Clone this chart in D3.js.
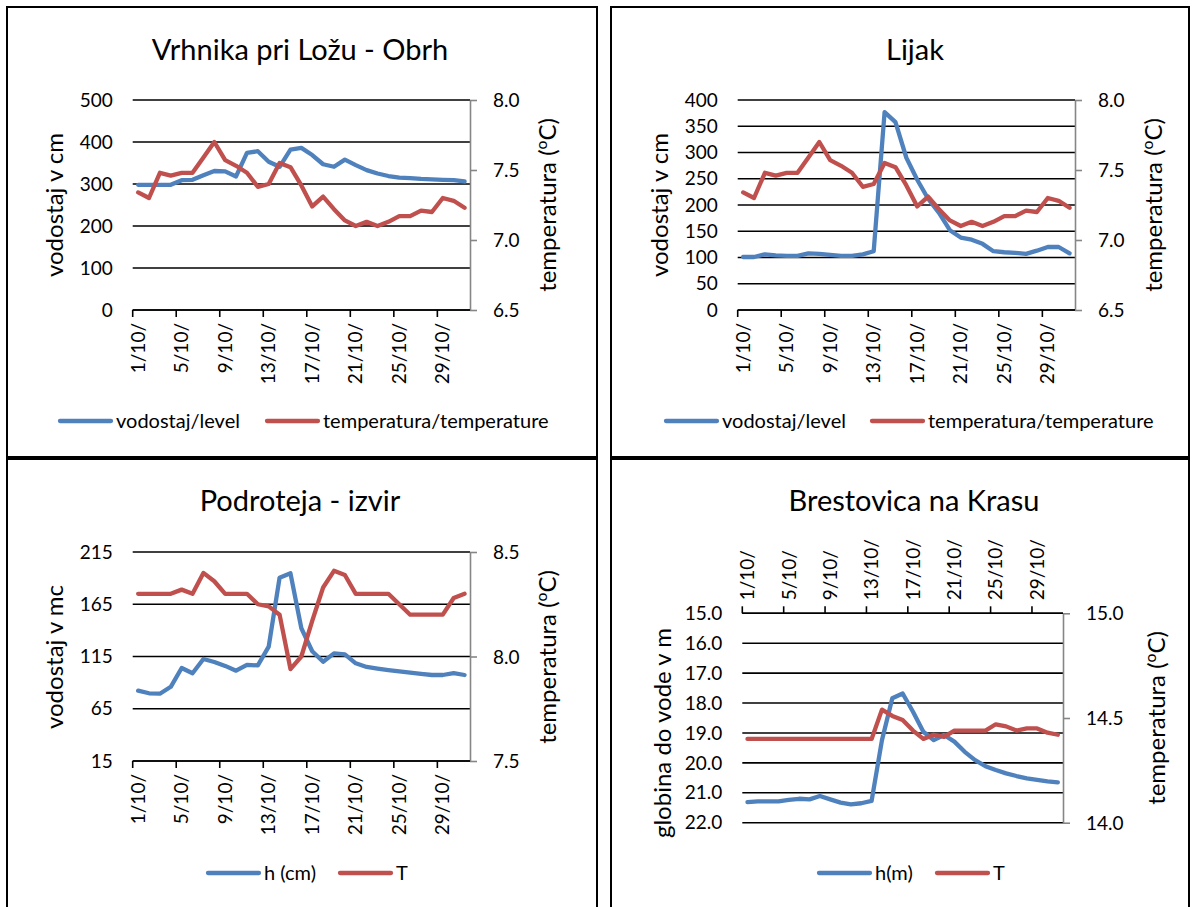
<!DOCTYPE html>
<html><head><meta charset="utf-8">
<script src="https://cdn.jsdelivr.net/npm/d3@7"></script>
<style>
body{margin:0;background:#fff}
svg{display:block}
text{font-family:Lato,"Open Sans",sans-serif;fill:#000}
</style>
</head><body>
<svg id="c" width="1196" height="907"></svg>
<script>
// ---------- data ----------
const days = d3.range(1, 32);
const labelDays = [1, 5, 9, 13, 17, 21, 25, 29];
const dayLabels = ["1/10/", "5/10/", "9/10/", "13/10/", "17/10/", "21/10/", "25/10/", "29/10/"];

const obrhLevel = [298,298,298,298,309,310,321,331,330,318,374,378,353,341,382,386,369,347,341,358,345,333,325,319,315,314,312,311,310,309,306];
const obrhTemp  = [7.34,7.30,7.48,7.46,7.48,7.48,7.59,7.70,7.57,7.53,7.48,7.38,7.40,7.55,7.52,7.39,7.24,7.31,7.22,7.14,7.10,7.13,7.10,7.13,7.17,7.17,7.21,7.20,7.30,7.28,7.23];

const lijakLevel = [101,101,106,104,103,103,108,107,105,103,103,106,112,377,358,290,248,212,185,152,138,134,126,112,110,109,107,113,120,120,108];
const lijakTemp  = [7.34,7.30,7.48,7.46,7.48,7.48,7.59,7.70,7.57,7.53,7.48,7.38,7.40,7.55,7.52,7.39,7.24,7.31,7.22,7.14,7.10,7.13,7.10,7.13,7.17,7.17,7.21,7.20,7.30,7.28,7.23];

const podrotejaH = [82.3,79.8,79.4,86,104,99,112.6,109.7,106,101.4,107,106.5,124.4,190.4,194.6,142,120,110,118,117,108.5,105,103.4,102,100.8,99.5,98.3,97.3,97.3,99,97.3];
const podrotejaT = [8.30,8.30,8.30,8.30,8.32,8.30,8.40,8.36,8.30,8.30,8.30,8.25,8.24,8.20,7.94,8.00,8.17,8.33,8.41,8.39,8.30,8.30,8.30,8.30,8.25,8.20,8.20,8.20,8.20,8.28,8.30];

const brestovicaH = [21.31,21.29,21.29,21.29,21.24,21.20,21.22,21.11,21.22,21.33,21.39,21.35,21.27,19.24,17.84,17.68,18.29,18.96,19.24,19.07,19.29,19.63,19.91,20.11,20.24,20.35,20.44,20.52,20.57,20.62,20.65];
const brestovicaT = [14.40,14.40,14.40,14.40,14.40,14.40,14.40,14.40,14.40,14.40,14.40,14.40,14.40,14.54,14.51,14.49,14.44,14.40,14.42,14.41,14.44,14.44,14.44,14.44,14.47,14.46,14.44,14.45,14.45,14.43,14.42];

const levelTicks1 = [0, 100, 200, 300, 400, 500];
const levelTicks2 = [0, 50, 100, 150, 200, 250, 300, 350, 400];
const levelTicks3 = [15, 65, 115, 165, 215];
const depthTicks4 = [15, 16, 17, 18, 19, 20, 21, 22];
const tempTicks1 = [6.5, 7.0, 7.5, 8.0];
const tempTicks3 = [7.5, 8.0, 8.5];
const tempTicks4 = [14.0, 14.5, 15.0];

const titles = ["Vrhnika pri Ložu - Obrh", "Lijak", "Podroteja - izvir", "Brestovica na Krasu"];
const leftTitles = ["vodostaj v cm", "vodostaj v cm", "vodostaj v mc", "globina do vode v m"];
const legendNames = [["vodostaj/level", "temperatura/temperature"], ["vodostaj/level", "temperatura/temperature"], ["h (cm)", "T"], ["h(m)", "T"]];

const BLUE = "#4F81BD", RED = "#C0504D", AXISGRAY = "#868686";

// ---------- drawing ----------
const svg = d3.select("#c");
svg.append("rect").attr("width", 1196).attr("height", 907).attr("fill", "#fff");

const panels = [
  {box:[7,7,590,450], l:132.7, r:470, t:100, b:310, lev:obrhLevel, tmp:obrhTemp, lDom:[0,500], lTicks:levelTicks1, lFmt:d3.format("d"), rDom:[6.5,8.0], rTicks:tempTicks1,
   title:titles[0], tx:300, ty:60, lt:leftTitles[0], ltx:55, lty:205, rtx:548, rty:205, leg:legendNames[0], legY:421, legX:[58,265]},
  {box:[611,7,578,450], l:737.7, r:1075, t:100, b:310, lev:lijakLevel, tmp:lijakTemp, lDom:[0,400], lTicks:levelTicks2, lFmt:d3.format("d"), rDom:[6.5,8.0], rTicks:tempTicks1,
   title:titles[1], tx:915, ty:60, lt:leftTitles[1], ltx:660, lty:205, rtx:1154, rty:205, leg:legendNames[1], legY:421, legX:[664,870]},
  {box:[7,459,590,460], l:132.7, r:470, t:552, b:761, lev:podrotejaH, tmp:podrotejaT, lDom:[15,215], lTicks:levelTicks3, lFmt:d3.format("d"), rDom:[7.5,8.5], rTicks:tempTicks3,
   title:titles[2], tx:300, ty:511, lt:leftTitles[2], ltx:55, lty:657, rtx:548, rty:657, leg:legendNames[2], legY:873, legX:[206,338]},
  {box:[611,459,578,460], l:742.3, r:1063, t:613.3, b:822.7, lev:brestovicaH, tmp:brestovicaT, lDom:[15,22], lTicks:depthTicks4, lFmt:d3.format(".1f"), rDom:[14,15], rTicks:tempTicks4, reverse:true, topAxis:true,
   title:titles[3], tx:914, ty:511, lt:leftTitles[3], ltx:663, lty:733, rtx:1157, rty:718, leg:legendNames[3], legY:873, legX:[817,935]}
];

const TICKFS = 19, AXTFS = 24, TITLEFS = 29, LEGFS = 20;

panels.forEach(p => {
  const g = svg.append("g");
  g.append("rect").attr("x", p.box[0]).attr("y", p.box[1]).attr("width", p.box[2]).attr("height", p.box[3])
    .attr("fill", "none").attr("stroke", "#000").attr("stroke-width", 2);

  const x = d3.scaleBand().domain(days).range([p.l, p.r]).padding(0);
  const bw = x.bandwidth();
  const yL = d3.scaleLinear().domain(p.lDom).range(p.reverse ? [p.t, p.b] : [p.b, p.t]);
  const yR = d3.scaleLinear().domain(p.rDom).range([p.b, p.t]);

  // gridlines
  g.append("g").selectAll("line").data(p.lTicks).join("line")
    .attr("x1", p.l).attr("x2", p.r).attr("y1", d => yL(d)).attr("y2", d => yL(d))
    .attr("stroke", "#000").attr("stroke-width", 1.6);

  // left tick labels
  g.append("g").selectAll("text").data(p.lTicks).join("text")
    .attr("x", p.l - 20).attr("y", d => yL(d)).attr("dy", "0.35em")
    .attr("text-anchor", "end").attr("font-size", TICKFS).text(p.lFmt);

  // right axis
  const ra = d3.axisRight(yR).tickValues(p.rTicks).tickSize(7).tickSizeOuter(0).tickPadding(16).tickFormat(d3.format(".1f"));
  const rag = g.append("g").attr("transform", `translate(${p.r},0)`).call(ra);
  rag.select(".domain").attr("stroke", AXISGRAY).attr("stroke-width", 1.6);
  rag.selectAll(".tick line").attr("stroke", AXISGRAY).attr("stroke-width", 1.6);
  rag.selectAll(".tick text").attr("font-size", TICKFS).attr("font-family", "Lato,'Open Sans',sans-serif").attr("fill", "#000").attr("dy", "0.35em");

  // category axis
  const ya = p.topAxis ? p.t : p.b;
  const dir = p.topAxis ? -1 : 1;
  g.append("line").attr("x1", p.l).attr("x2", p.r).attr("y1", ya).attr("y2", ya).attr("stroke", "#000").attr("stroke-width", 1.6);
  g.append("g").selectAll("line").data(labelDays).join("line")
    .attr("x1", d => x(d)).attr("x2", d => x(d)).attr("y1", ya).attr("y2", ya + dir * 7)
    .attr("stroke", "#000").attr("stroke-width", 1.6);
  g.append("g").selectAll("text").data(labelDays).join("text")
    .attr("transform", d => `translate(${x(d) + bw / 2},${ya + dir * 13}) rotate(-90)`)
    .attr("dy", "0.35em").attr("text-anchor", p.topAxis ? "start" : "end")
    .attr("font-size", TICKFS).text((d, i) => dayLabels[i]);

  // series
  const lineL = d3.line().x((d, i) => x(days[i]) + bw / 2).y(d => yL(d));
  const lineR = d3.line().x((d, i) => x(days[i]) + bw / 2).y(d => yR(d));
  g.append("path").attr("d", lineL(p.lev)).attr("fill", "none").attr("stroke", BLUE)
    .attr("stroke-width", 4.3).attr("stroke-linejoin", "round").attr("stroke-linecap", "round");
  g.append("path").attr("d", lineR(p.tmp)).attr("fill", "none").attr("stroke", RED)
    .attr("stroke-width", 4.3).attr("stroke-linejoin", "round").attr("stroke-linecap", "round");

  // title
  g.append("text").attr("x", p.tx).attr("y", p.ty).attr("text-anchor", "middle").attr("font-size", TITLEFS).text(p.title);

  // axis titles
  g.append("text").attr("transform", `translate(${p.ltx},${p.lty}) rotate(-90)`).attr("dy", "0.35em")
    .attr("text-anchor", "middle").attr("font-size", AXTFS).text(p.lt);
  const rt = g.append("text").attr("transform", `translate(${p.rtx},${p.rty}) rotate(-90)`).attr("dy", "0.35em")
    .attr("text-anchor", "middle").attr("font-size", AXTFS);
  rt.append("tspan").text("temperatura (");
  rt.append("tspan").attr("font-size", AXTFS * 0.65).attr("baseline-shift", "super").text("o");
  rt.append("tspan").text("C)");

  // legend
  [BLUE, RED].forEach((c, k) => {
    const lx = p.legX[k];
    g.append("line").attr("x1", lx + 2).attr("x2", lx + 53).attr("y1", p.legY).attr("y2", p.legY)
      .attr("stroke", c).attr("stroke-width", 4.3).attr("stroke-linecap", "round");
    g.append("text").attr("x", lx + 58).attr("y", p.legY).attr("dy", "0.35em").attr("font-size", LEGFS).text(p.leg[k]);
  });
});
</script>
</body></html>
